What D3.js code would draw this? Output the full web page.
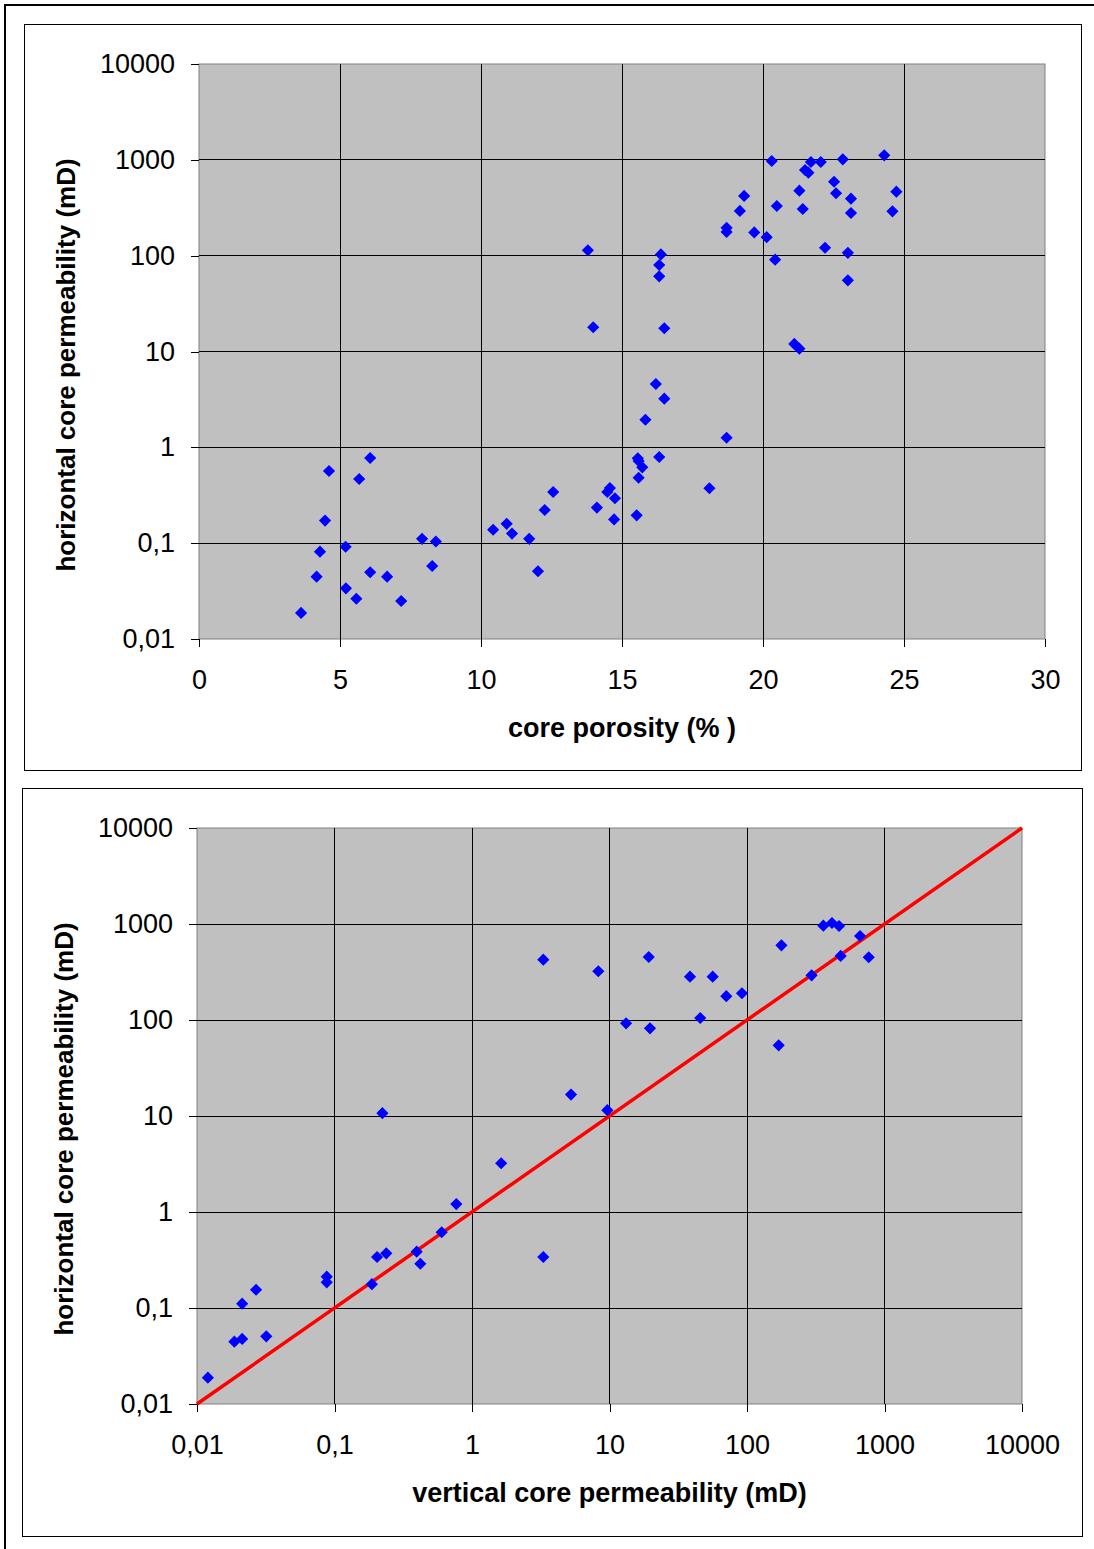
<!DOCTYPE html>
<html>
<head>
<meta charset="utf-8">
<script src="https://cdn.jsdelivr.net/npm/d3@7"></script>
<style>
  html, body { margin: 0; padding: 0; background: #fff; }
  svg { display: block; }
  text { font-family: "Liberation Sans", Arial, sans-serif; }
</style>
</head>
<body>
<svg id="svgElem" width="1094" height="1549"></svg>
<script>
// top chart : core porosity (%) vs horizontal permeability (mD)
var porosity = [3.62, 4.17, 4.29, 4.47, 4.61, 5.20, 5.21, 5.58, 5.68, 6.07,
    6.07, 6.67, 7.17, 7.91, 8.27, 8.40, 10.43, 10.91, 11.10, 11.71,
    12.02, 12.26, 12.56, 13.79, 13.98, 14.11, 14.48, 14.57, 14.75, 14.72,
    15.52, 15.59, 15.56, 15.59, 15.72, 15.83, 16.20, 16.32, 16.32, 16.32,
    16.38, 16.50, 16.50, 18.10, 18.71, 18.71, 18.71, 19.18, 19.33, 19.69,
    20.13, 20.31, 20.43, 20.49, 21.11, 21.29, 21.29, 21.41, 21.49, 21.61,
    21.70, 22.05, 22.20, 22.52, 22.59, 22.83, 23.01, 23.01, 23.12, 23.12,
    24.30, 24.59, 24.73];
var khPorosity = [0.0187, 0.0447, 0.0815, 0.172, 0.566, 0.0918, 0.0338, 0.0263, 0.467, 0.774,
    0.0497, 0.0447, 0.0249, 0.111, 0.0578, 0.104, 0.138, 0.159, 0.126, 0.111,
    0.0509, 0.222, 0.342, 114, 17.9, 0.235, 0.342, 0.376, 0.294, 0.177,
    0.195, 0.482, 0.768, 0.72, 0.619, 1.94, 4.58, 0.793, 60.9, 79.9,
    103, 17.5, 3.22, 0.374, 1.26, 195, 177, 293, 420, 175,
    156, 973, 90.8, 330, 12.0, 10.7, 477, 307, 783, 735,
    950, 950, 121, 591, 448, 1013, 107, 55.3, 393, 279,
    1115, 290, 465];

// bottom chart : vertical vs horizontal permeability (mD)
var kvVert = [0.0120, 0.0187, 0.0213, 0.0213, 0.0269, 0.0319, 0.0878, 0.0878, 0.223, 0.187,
    0.204, 0.238, 0.396, 0.421, 0.602, 0.769, 1.63, 3.30, 8.29, 19.3,
    38.5, 56.3, 70.7, 91.9, 178, 13.2, 19.7, 45.7, 170, 5.25,
    9.64, 3.30, 295, 359, 415, 467, 664, 480, 768];
var khVert = [0.0188, 0.0446, 0.0476, 0.111, 0.155, 0.0507, 0.212, 0.185, 10.7, 0.177,
    0.340, 0.371, 0.386, 0.289, 0.615, 1.21, 3.22, 425, 322, 453,
    283, 283, 177, 190, 600, 92.4, 81.9, 105, 54.5, 16.7,
    11.5, 0.340, 292, 960, 1024, 953, 750, 465, 450];

var logTicks = [0.01, 0.1, 1, 10, 100, 1000, 10000];
var porosityTicks = [0, 5, 10, 15, 20, 25, 30];
var unityLine = [0.01, 10000];

var locale = d3.formatLocale({ decimal: ",", thousands: "", grouping: [3], currency: ["", ""] });
var fmt = locale.format("~g");

var svg = d3.select("svg#svgElem");

/* 바깥 테두리 */
svg.append("path")
    .attr("d", "M5,1600 L5,5 L1100,5")
    .attr("fill", "none")
    .attr("stroke", "#000")
    .attr("stroke-width", 2);

function drawChart(opt) {
    var box = opt.box, p = opt.plot;

    svg.append("rect")
        .attr("x", box.x + 0.5).attr("y", box.y + 0.5)
        .attr("width", box.w).attr("height", box.h)
        .attr("fill", "#fff").attr("stroke", "#000");

    var x = opt.xScale.range([p.left, p.right]);
    var y = d3.scaleLog().domain([0.01, 10000]).range([p.bottom, p.top]);

    svg.append("rect")
        .attr("x", p.left).attr("y", p.top)
        .attr("width", p.right - p.left).attr("height", p.bottom - p.top)
        .attr("fill", "#c0c0c0")
        .attr("stroke", "#808080");

    var g = svg.append("g").attr("shape-rendering", "crispEdges");
    g.selectAll("line.gx")
        .data(opt.xTicks.slice(1, -1))
        .enter().append("line")
        .attr("x1", function(d) { return x(d); })
        .attr("x2", function(d) { return x(d); })
        .attr("y1", p.top).attr("y2", p.bottom)
        .attr("stroke", "#000");
    g.selectAll("line.gy")
        .data(logTicks.slice(1, -1))
        .enter().append("line")
        .attr("x1", p.left).attr("x2", p.right)
        .attr("y1", function(d) { return y(d); })
        .attr("y2", function(d) { return y(d); })
        .attr("stroke", "#000");

    var yAxis = svg.append("g")
        .attr("transform", "translate(" + p.left + ",0)")
        .call(d3.axisLeft(y).tickValues(logTicks).tickFormat(fmt).tickSize(8).tickPadding(16));
    var xAxis = svg.append("g")
        .attr("transform", "translate(0," + p.bottom + ")")
        .call(d3.axisBottom(x).tickValues(opt.xTicks).tickFormat(opt.xFormat).tickSize(8).tickPadding(23));
    [xAxis, yAxis].forEach(function(a) {
        a.select(".domain").remove();
        a.selectAll("line").attr("stroke", "#000").attr("shape-rendering", "crispEdges");
        a.selectAll("text").attr("font-size", "27px").attr("fill", "#000")
            .style("font-family", '"Liberation Sans", Arial, sans-serif');
    });

    if (opt.line) {
        svg.append("path")
            .datum(opt.line)
            .attr("fill", "none")
            .attr("stroke", "#ff0000")
            .attr("stroke-width", 3.5)
            .attr("d", d3.line().x(function(d) { return x(d); }).y(function(d) { return y(d); }));
    }

    var diamond = d3.symbol().type(d3.symbolSquare).size(74);
    svg.append("g").selectAll("path")
        .data(opt.xs)
        .enter().append("path")
        .attr("d", diamond)
        .attr("fill", "#0000ff")
        .attr("transform", function(d, i) {
            return "translate(" + x(d) + "," + y(opt.ys[i]) + ") rotate(45)";
        });

    svg.append("text")
        .attr("x", (p.left + p.right) / 2)
        .attr("y", opt.xTitleY)
        .attr("text-anchor", "middle")
        .attr("font-size", "27px")
        .attr("font-weight", "bold")
        .text(opt.xTitle);

    svg.append("text")
        .attr("transform", "translate(" + opt.yTitleX + "," + opt.yTitleY + ") rotate(-90)")
        .attr("text-anchor", "middle")
        .attr("font-size", "26px")
        .attr("font-weight", "bold")
        .text("horizontal core permeability (mD)");
}

drawChart({
    box: { x: 24, y: 24, w: 1057, h: 746 },
    plot: { left: 199, right: 1045, top: 64, bottom: 639 },
    xScale: d3.scaleLinear().domain([0, 30]),
    xTicks: porosityTicks,
    xFormat: function(d) { return d; },
    xs: porosity, ys: khPorosity,
    xTitle: "core porosity (% )",
    xTitleY: 737,
    yTitleX: 75, yTitleY: 365
});

drawChart({
    box: { x: 22, y: 788, w: 1060, h: 748 },
    plot: { left: 197, right: 1022, top: 828, bottom: 1404 },
    xScale: d3.scaleLog().domain([0.01, 10000]),
    xTicks: logTicks,
    xFormat: fmt,
    xs: kvVert, ys: khVert,
    line: unityLine,
    xTitle: "vertical core permeability (mD)",
    xTitleY: 1502,
    yTitleX: 73, yTitleY: 1129
});
</script>
</body>
</html>
